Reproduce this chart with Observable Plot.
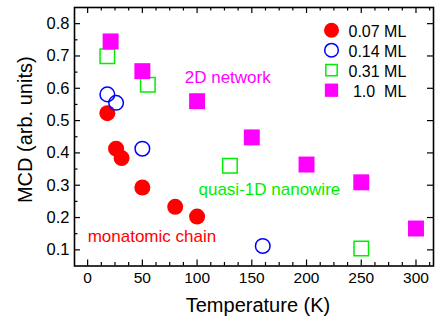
<!DOCTYPE html>
<html><head><meta charset="utf-8">
<script src="https://cdn.jsdelivr.net/npm/d3@7"></script>
<script src="https://cdn.jsdelivr.net/npm/@observablehq/plot@0.6"></script>
<style>html,body{margin:0;padding:0;background:#fff}#chart svg{display:block}</style>
</head><body><div id="chart"></div>
<script>
// Series data (Temperature in K, MCD in arb. units)
const temps007 = [18, 26, 31, 50, 80, 100];
const mcd007   = [0.523, 0.413, 0.384, 0.293, 0.233, 0.203];
const temps014 = [18, 26, 50, 160];
const mcd014   = [0.581, 0.555, 0.413, 0.112];
const temps031 = [18, 55, 130, 250];
const mcd031   = [0.699, 0.611, 0.360, 0.104];
const temps10  = [21, 50, 100, 150, 200, 250, 300];
const mcd10    = [0.745, 0.653, 0.560, 0.448, 0.364, 0.309, 0.166];

const seriesLabels = ["0.07 ML", "0.14 ML", "0.31 ML", "\u00A01.0\u00A0 ML"];

// Tick values
const xMajor = [0, 50, 100, 150, 200, 250, 300];
const xMinor = [12.5, 25, 37.5, 62.5, 75, 87.5, 112.5, 125, 137.5, 162.5, 175, 187.5, 212.5, 225, 237.5, 262.5, 275, 287.5, 312.5];
const yMajor = [0.1, 0.2, 0.3, 0.4, 0.5, 0.6, 0.7, 0.8];
const yMinor = [0.15, 0.25, 0.35, 0.45, 0.55, 0.65, 0.75];

// Annotations
const annTexts  = ["2D network", "quasi-1D nanowire", "monatomic chain"];
const annX      = [88.7, 101.3, 0];
const annY      = [0.632, 0.286, 0.142];
const annColors = ["#ff00ff", "#00ee00", "#ff0000"];

const toRows = (xs, ys) => xs.map((t, i) => ({t, v: ys[i]}));
const d007 = toRows(temps007, mcd007);
const d014 = toRows(temps014, mcd014);
const d031 = toRows(temps031, mcd031);
const d10  = toRows(temps10, mcd10);
const anns = annTexts.map((s, i) => ({s, x: annX[i], y: annY[i], c: annColors[i]}));

const W = 439, H = 325, mL = 74, mR = 6, mT = 7, mB = 59.5;
const plotW = W - mL - mR, plotH = H - mT - mB;

const styles = [
  {r: 8, symbol: "circle", fill: "#ff0000", stroke: "none", lr: 7.5},
  {r: 7.3, symbol: "circle", fill: "none", stroke: "#0000ff", lr: 6.8},
  {r: 8.2, symbol: "square", fill: "none", stroke: "#00ee00", lr: 6.4},
  {r: 9.0, symbol: "square", fill: "#ff00ff", stroke: "none", lr: 7.5}
];
const datasets = [d007, d014, d031, d10];

const marks = [
  Plot.axisX(xMajor, {tickSize: 0, tickPadding: 6, fontSize: 15.5, label: null}),
  Plot.axisY(yMajor, {tickSize: 0, tickPadding: 5, fontSize: 16.5, label: null, tickFormat: d3.format(".1f")}),
  Plot.ruleX(xMajor, {insetTop: plotH - 6, stroke: "black", strokeWidth: 1.2}),
  Plot.ruleX(xMinor, {insetTop: plotH - 3.5, stroke: "black", strokeWidth: 1.2}),
  Plot.ruleX(xMajor, {insetBottom: plotH - 6, stroke: "black", strokeWidth: 1.2}),
  Plot.ruleX(xMinor, {insetBottom: plotH - 3.5, stroke: "black", strokeWidth: 1.2}),
  Plot.ruleY(yMajor, {insetRight: plotW - 6, stroke: "black", strokeWidth: 1.2}),
  Plot.ruleY(yMinor, {insetRight: plotW - 3.5, stroke: "black", strokeWidth: 1.2}),
  Plot.ruleY(yMajor, {insetLeft: plotW - 6, stroke: "black", strokeWidth: 1.2}),
  Plot.frame({stroke: "black", strokeWidth: 1.6})
];

datasets.forEach((d, i) => {
  const s = styles[i];
  marks.push(Plot.dot(d, {x: "t", y: "v", r: s.r, symbol: s.symbol, fill: s.fill, stroke: s.stroke, strokeWidth: 1.5}));
});

// Legend
styles.forEach((s, i) => {
  marks.push(Plot.dot([seriesLabels[i]], {frameAnchor: "top-left", dx: 257, dy: 22.7 + 20 * i, r: s.lr, symbol: s.symbol, fill: s.fill, stroke: s.stroke, strokeWidth: 1.5}));
  marks.push(Plot.text([seriesLabels[i]], {frameAnchor: "top-left", dx: 274, dy: 24.2 + 20 * i, text: d => d, textAnchor: "start", lineAnchor: "middle", fontSize: 16, fill: "black"}));
});

// Annotations
marks.push(Plot.text(anns, {x: "x", y: "y", text: "s", fill: "c", textAnchor: "start", lineAnchor: "middle", fontSize: 17}));

// Axis titles
marks.push(Plot.text(["Temperature (K)"], {frameAnchor: "bottom", dx: 4, dy: 40, text: d => d, textAnchor: "middle", lineAnchor: "middle", fontSize: 20, fill: "black"}));
marks.push(Plot.text(["MCD (arb. units)"], {frameAnchor: "left", rotate: -90, dx: -48.7, dy: -7, text: d => d, textAnchor: "middle", lineAnchor: "middle", fontSize: 20, fill: "black"}));

const chart = Plot.plot({
  width: W, height: H,
  marginLeft: mL, marginRight: mR, marginTop: mT, marginBottom: mB,
  style: {fontFamily: "'Liberation Sans', Arial, sans-serif", background: "white", color: "black", overflow: "visible"},
  x: {domain: [-12, 316]},
  y: {domain: [0.05, 0.85]},
  color: {type: "identity"},
  marks
});
document.getElementById("chart").appendChild(chart);
</script>
</body></html>
